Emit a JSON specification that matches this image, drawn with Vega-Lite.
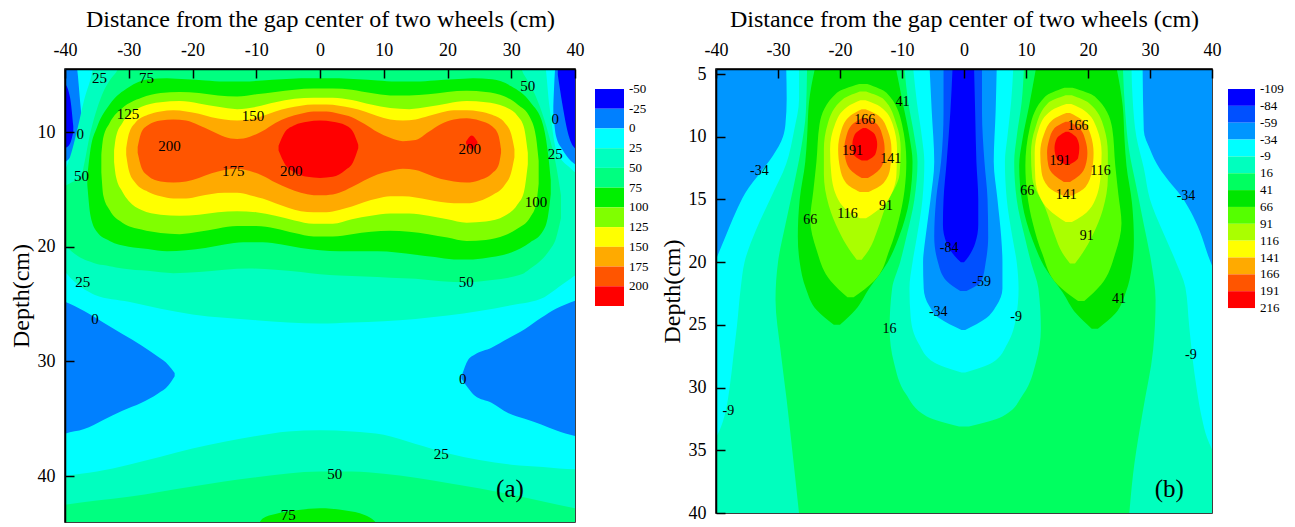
{
"$schema":"https://vega.github.io/schema/vega-lite/v6.json",
"padding":{"left":8,"top":6,"right":5,"bottom":5},
"background":"white",
"config":{
 "font":"Liberation Serif",
 "view":{"stroke":null},
 "axis":{"labelFont":"Liberation Serif","titleFont":"Liberation Serif","labelFontSize":18,"titleFontSize":24,"titleFontWeight":"normal","labelColor":"#000","titleColor":"#000","domainColor":"#000","domainWidth":1.5,"tickColor":"#000","tickWidth":1.5,"tickSize":-9,"labelPadding":19,"grid":false,"labelFlush":false,"labelOverlap":false},
 "axisX":{"titlePadding":10},
 "axisY":{"titlePadding":4}
},
"datasets":{
"a":[
{"v":10,"g":"A","x":-41,"d":4,"d2":45},{"v":10,"g":"A","x":41,"d":4,"d2":45},
{"v":-10,"g":"TL","x":-41,"d":4,"d2":12.9},{"v":-10,"g":"TL","x":-40,"d":4,"d2":12.6},{"v":-10,"g":"TL","x":-39,"d":4,"d2":12.1},{"v":-10,"g":"TL","x":-38.3,"d":4,"d2":11.3},{"v":-10,"g":"TL","x":-37.6,"d":7.5,"d2":10.6},{"v":-10,"g":"TL","x":-37.3,"d":9.3,"d2":9.9},
{"v":-10,"g":"TR","x":36.6,"d":7.8,"d2":8.3},{"v":-10,"g":"TR","x":37,"d":4,"d2":10.3},{"v":-10,"g":"TR","x":38,"d":4,"d2":11.5},{"v":-10,"g":"TR","x":39,"d":4,"d2":12.3},{"v":-10,"g":"TR","x":40,"d":4,"d2":12.8},{"v":-10,"g":"TR","x":41,"d":4,"d2":13.0},
{"v":-10,"g":"ML","x":-41,"d":24.6,"d2":36.5},{"v":-10,"g":"ML","x":-40,"d":24.8,"d2":36.3},{"v":-10,"g":"ML","x":-37,"d":25.6,"d2":35.9},{"v":-10,"g":"ML","x":-34,"d":26.6,"d2":35.1},{"v":-10,"g":"ML","x":-31,"d":27.6,"d2":34.3},{"v":-10,"g":"ML","x":-28,"d":28.6,"d2":33.6},{"v":-10,"g":"ML","x":-25.4,"d":29.6,"d2":32.8},{"v":-10,"g":"ML","x":-23.8,"d":30.3,"d2":32.1},{"v":-10,"g":"ML","x":-22.8,"d":31.0,"d2":31.3},
{"v":-10,"g":"MR","x":22.2,"d":31.3,"d2":31.5},{"v":-10,"g":"MR","x":23.2,"d":29.9,"d2":32.3},{"v":-10,"g":"MR","x":24.3,"d":29.4,"d2":33.0},{"v":-10,"g":"MR","x":26.9,"d":28.8,"d2":33.6},{"v":-10,"g":"MR","x":29.5,"d":28.0,"d2":34.5},{"v":-10,"g":"MR","x":32.1,"d":27.2,"d2":35.0},{"v":-10,"g":"MR","x":34.7,"d":26.2,"d2":35.5},{"v":-10,"g":"MR","x":37,"d":25.4,"d2":36.0},{"v":-10,"g":"MR","x":40,"d":24.7,"d2":36.5},{"v":-10,"g":"MR","x":41,"d":24.5,"d2":36.6},
{"v":-30,"g":"DL","x":-41,"d":5.6,"d2":11.5},{"v":-30,"g":"DL","x":-40,"d":5.8,"d2":11.4},{"v":-30,"g":"DL","x":-39.2,"d":7.0,"d2":11.0},{"v":-30,"g":"DL","x":-38.7,"d":9.5,"d2":10.0},
{"v":-30,"g":"DR","x":37.3,"d":4,"d2":5.0},{"v":-30,"g":"DR","x":38,"d":4,"d2":7.5},{"v":-30,"g":"DR","x":39,"d":4,"d2":10.3},{"v":-30,"g":"DR","x":40,"d":4,"d2":11.4},{"v":-30,"g":"DR","x":41,"d":4,"d2":11.6},
{"v":30,"g":"T","x":-41,"d":13.9,"d2":21.9},{"v":30,"g":"T","x":-40,"d":13.3,"d2":22.2},{"v":30,"g":"T","x":-39,"d":11.8,"d2":22.8},{"v":30,"g":"T","x":-38,"d":9.6,"d2":23.3},{"v":30,"g":"T","x":-37,"d":7.2,"d2":23.7},{"v":30,"g":"T","x":-36,"d":5.4,"d2":24.0},{"v":30,"g":"T","x":-35.3,"d":4,"d2":24.2},{"v":30,"g":"T","x":-30,"d":4,"d2":24.8},{"v":30,"g":"T","x":-25,"d":4,"d2":25.4},{"v":30,"g":"T","x":-20,"d":4,"d2":25.9},{"v":30,"g":"T","x":-15,"d":4,"d2":26.2},{"v":30,"g":"T","x":-10,"d":4,"d2":26.4},{"v":30,"g":"T","x":-5,"d":4,"d2":26.6},{"v":30,"g":"T","x":0,"d":4,"d2":26.7},{"v":30,"g":"T","x":5,"d":4,"d2":26.6},{"v":30,"g":"T","x":10,"d":4,"d2":26.5},{"v":30,"g":"T","x":15,"d":4,"d2":26.3},{"v":30,"g":"T","x":20,"d":4,"d2":26.0},{"v":30,"g":"T","x":25,"d":4,"d2":25.6},{"v":30,"g":"T","x":30,"d":4,"d2":25.1},{"v":30,"g":"T","x":35.2,"d":4,"d2":24.4},{"v":30,"g":"T","x":36,"d":7.8,"d2":24.1},{"v":30,"g":"T","x":37,"d":11.5,"d2":23.7},{"v":30,"g":"T","x":38,"d":12.5,"d2":23.3},{"v":30,"g":"T","x":39,"d":13.0,"d2":22.9},{"v":30,"g":"T","x":40,"d":13.5,"d2":22.5},{"v":30,"g":"T","x":41,"d":13.7,"d2":22.3},
{"v":30,"g":"B","x":-41,"d":40.1,"d2":45},{"v":30,"g":"B","x":-40,"d":40.0,"d2":45},{"v":30,"g":"B","x":-35,"d":39.6,"d2":45},{"v":30,"g":"B","x":-30,"d":39.0,"d2":45},{"v":30,"g":"B","x":-25,"d":38.3,"d2":45},{"v":30,"g":"B","x":-20,"d":37.6,"d2":45},{"v":30,"g":"B","x":-15,"d":37.0,"d2":45},{"v":30,"g":"B","x":-10,"d":36.5,"d2":45},{"v":30,"g":"B","x":-5,"d":36.1,"d2":45},{"v":30,"g":"B","x":0,"d":36.0,"d2":45},{"v":30,"g":"B","x":5,"d":36.1,"d2":45},{"v":30,"g":"B","x":10,"d":36.4,"d2":45},{"v":30,"g":"B","x":15,"d":37.2,"d2":45},{"v":30,"g":"B","x":20,"d":38.0,"d2":45},{"v":30,"g":"B","x":25,"d":38.6,"d2":45},{"v":30,"g":"B","x":30,"d":39.0,"d2":45},{"v":30,"g":"B","x":35,"d":39.2,"d2":45},{"v":30,"g":"B","x":40,"d":39.4,"d2":45},{"v":30,"g":"B","x":41,"d":39.4,"d2":45},
{"v":60,"g":"T","x":-41,"d":14.9,"d2":19.6},{"v":60,"g":"T","x":-40,"d":14.7,"d2":19.9},{"v":60,"g":"T","x":-39,"d":14.4,"d2":20.4},{"v":60,"g":"T","x":-38,"d":14.1,"d2":20.8},{"v":60,"g":"T","x":-37.4,"d":13.8,"d2":21.0},{"v":60,"g":"T","x":-37,"d":12.8,"d2":21.1},{"v":60,"g":"T","x":-36,"d":10.0,"d2":21.3},{"v":60,"g":"T","x":-35,"d":8.0,"d2":21.5},{"v":60,"g":"T","x":-34,"d":6.5,"d2":21.6},{"v":60,"g":"T","x":-33,"d":5.5,"d2":21.7},{"v":60,"g":"T","x":-32,"d":4.8,"d2":21.8},{"v":60,"g":"T","x":-31,"d":4,"d2":21.9},{"v":60,"g":"T","x":-27,"d":4,"d2":22.1},{"v":60,"g":"T","x":-23,"d":4,"d2":22.3},{"v":60,"g":"T","x":-19,"d":4,"d2":22.2},{"v":60,"g":"T","x":-15,"d":4,"d2":22.0},{"v":60,"g":"T","x":-11,"d":4,"d2":21.9},{"v":60,"g":"T","x":-7,"d":4,"d2":22.0},{"v":60,"g":"T","x":-3,"d":4,"d2":22.2},{"v":60,"g":"T","x":0,"d":4,"d2":22.4},{"v":60,"g":"T","x":3,"d":4,"d2":22.5},{"v":60,"g":"T","x":7,"d":4,"d2":22.6},{"v":60,"g":"T","x":11,"d":4,"d2":22.7},{"v":60,"g":"T","x":15,"d":4,"d2":22.8},{"v":60,"g":"T","x":19,"d":4,"d2":23.0},{"v":60,"g":"T","x":23,"d":4,"d2":23.1},{"v":60,"g":"T","x":27,"d":4,"d2":22.9},{"v":60,"g":"T","x":31,"d":4,"d2":22.5},{"v":60,"g":"T","x":32,"d":5.0,"d2":22.3},{"v":60,"g":"T","x":33,"d":5.9,"d2":21.9},{"v":60,"g":"T","x":34,"d":7.1,"d2":21.5},{"v":60,"g":"T","x":35,"d":8.6,"d2":21.0},{"v":60,"g":"T","x":36,"d":10.5,"d2":20.3},{"v":60,"g":"T","x":37,"d":12.8,"d2":19.3},{"v":60,"g":"T","x":37.8,"d":15.5,"d2":17.5},
{"v":60,"g":"B","x":-41,"d":42.6,"d2":45},{"v":60,"g":"B","x":-40,"d":42.5,"d2":45},{"v":60,"g":"B","x":-30,"d":41.8,"d2":45},{"v":60,"g":"B","x":-20,"d":40.9,"d2":45},{"v":60,"g":"B","x":-10,"d":40.1,"d2":45},{"v":60,"g":"B","x":0,"d":39.6,"d2":45},{"v":60,"g":"B","x":5,"d":39.6,"d2":45},{"v":60,"g":"B","x":10,"d":39.8,"d2":45},{"v":60,"g":"B","x":20,"d":40.6,"d2":45},{"v":60,"g":"B","x":30,"d":41.6,"d2":45},{"v":60,"g":"B","x":40,"d":42.8,"d2":45},{"v":60,"g":"B","x":41,"d":42.9,"d2":45},
{"v":85,"g":"T","x":-36.5,"d":13.8,"d2":14.6},{"v":85,"g":"T","x":-36,"d":11.5,"d2":17.3},{"v":85,"g":"T","x":-35,"d":9.6,"d2":18.7},{"v":85,"g":"T","x":-33,"d":7.6,"d2":19.5},{"v":85,"g":"T","x":-30,"d":6.1,"d2":20.0},{"v":85,"g":"T","x":-27,"d":5.4,"d2":20.2},{"v":85,"g":"T","x":-24,"d":5.3,"d2":20.4},{"v":85,"g":"T","x":-21,"d":5.4,"d2":20.3},{"v":85,"g":"T","x":-18,"d":5.5,"d2":20.1},{"v":85,"g":"T","x":-15,"d":5.6,"d2":19.8},{"v":85,"g":"T","x":-12,"d":5.6,"d2":19.6},{"v":85,"g":"T","x":-9,"d":5.5,"d2":19.6},{"v":85,"g":"T","x":-6,"d":5.4,"d2":19.8},{"v":85,"g":"T","x":-3,"d":5.3,"d2":20.1},{"v":85,"g":"T","x":0,"d":5.3,"d2":20.3},{"v":85,"g":"T","x":3,"d":5.3,"d2":20.4},{"v":85,"g":"T","x":6,"d":5.4,"d2":20.4},{"v":85,"g":"T","x":9,"d":5.5,"d2":20.4},{"v":85,"g":"T","x":12,"d":5.6,"d2":20.5},{"v":85,"g":"T","x":15,"d":5.6,"d2":20.7},{"v":85,"g":"T","x":18,"d":5.5,"d2":20.9},{"v":85,"g":"T","x":21,"d":5.4,"d2":21.1},{"v":85,"g":"T","x":24,"d":5.3,"d2":21.1},{"v":85,"g":"T","x":27,"d":5.4,"d2":20.9},{"v":85,"g":"T","x":30,"d":6.0,"d2":20.5},{"v":85,"g":"T","x":33,"d":7.4,"d2":19.6},{"v":85,"g":"T","x":35,"d":9.4,"d2":18.6},{"v":85,"g":"T","x":35.8,"d":12.0,"d2":17.2},{"v":85,"g":"T","x":36.2,"d":14.2,"d2":15.4},
{"v":85,"g":"B","x":-10,"d":44.6,"d2":45},{"v":85,"g":"B","x":-9,"d":43.7,"d2":45},{"v":85,"g":"B","x":-7,"d":43.3,"d2":45},{"v":85,"g":"B","x":-4,"d":43.0,"d2":45},{"v":85,"g":"B","x":0,"d":42.8,"d2":45},{"v":85,"g":"B","x":4,"d":43.0,"d2":45},{"v":85,"g":"B","x":7,"d":43.4,"d2":45},{"v":85,"g":"B","x":8.5,"d":43.9,"d2":45},{"v":85,"g":"B","x":9.5,"d":44.6,"d2":45},
{"v":110,"g":"T","x":-34.3,"d":12.0,"d2":13.5},{"v":110,"g":"T","x":-34,"d":10.5,"d2":15.5},{"v":110,"g":"T","x":-33,"d":9.2,"d2":16.8},{"v":110,"g":"T","x":-31,"d":7.9,"d2":17.9},{"v":110,"g":"T","x":-28,"d":7.0,"d2":18.5},{"v":110,"g":"T","x":-25,"d":6.6,"d2":18.8},{"v":110,"g":"T","x":-22,"d":6.5,"d2":18.9},{"v":110,"g":"T","x":-19,"d":6.6,"d2":18.7},{"v":110,"g":"T","x":-16,"d":6.8,"d2":18.4},{"v":110,"g":"T","x":-13,"d":6.9,"d2":18.2},{"v":110,"g":"T","x":-10,"d":6.7,"d2":18.2},{"v":110,"g":"T","x":-7,"d":6.5,"d2":18.4},{"v":110,"g":"T","x":-4,"d":6.3,"d2":18.8},{"v":110,"g":"T","x":-1,"d":6.2,"d2":19.1},{"v":110,"g":"T","x":2,"d":6.2,"d2":19.1},{"v":110,"g":"T","x":5,"d":6.3,"d2":18.9},{"v":110,"g":"T","x":8,"d":6.6,"d2":18.7},{"v":110,"g":"T","x":11,"d":6.8,"d2":18.6},{"v":110,"g":"T","x":14,"d":6.8,"d2":18.7},{"v":110,"g":"T","x":17,"d":6.7,"d2":18.9},{"v":110,"g":"T","x":20,"d":6.5,"d2":19.2},{"v":110,"g":"T","x":23,"d":6.4,"d2":19.5},{"v":110,"g":"T","x":26,"d":6.5,"d2":19.4},{"v":110,"g":"T","x":29,"d":6.9,"d2":19.0},{"v":110,"g":"T","x":31,"d":7.6,"d2":18.4},{"v":110,"g":"T","x":33,"d":8.8,"d2":17.4},{"v":110,"g":"T","x":33.9,"d":10.5,"d2":16.3},{"v":110,"g":"T","x":34.3,"d":12.5,"d2":14.5},
{"v":135,"g":"T","x":-32.3,"d":11.6,"d2":12.6},{"v":135,"g":"T","x":-32,"d":10.4,"d2":13.9},{"v":135,"g":"T","x":-31,"d":9.2,"d2":15.2},{"v":135,"g":"T","x":-30,"d":8.5,"d2":16.0},{"v":135,"g":"T","x":-28,"d":7.8,"d2":16.8},{"v":135,"g":"T","x":-25,"d":7.4,"d2":17.2},{"v":135,"g":"T","x":-22,"d":7.3,"d2":17.3},{"v":135,"g":"T","x":-19,"d":7.5,"d2":17.2},{"v":135,"g":"T","x":-16,"d":7.8,"d2":17.0},{"v":135,"g":"T","x":-13,"d":8.0,"d2":16.9},{"v":135,"g":"T","x":-10,"d":7.8,"d2":17.0},{"v":135,"g":"T","x":-7,"d":7.4,"d2":17.3},{"v":135,"g":"T","x":-4,"d":7.1,"d2":17.7},{"v":135,"g":"T","x":-1,"d":7.0,"d2":18.0},{"v":135,"g":"T","x":2,"d":7.0,"d2":18.0},{"v":135,"g":"T","x":5,"d":7.2,"d2":17.6},{"v":135,"g":"T","x":8,"d":7.6,"d2":17.3},{"v":135,"g":"T","x":11,"d":7.9,"d2":17.1},{"v":135,"g":"T","x":14,"d":8.0,"d2":17.1},{"v":135,"g":"T","x":17,"d":7.8,"d2":17.3},{"v":135,"g":"T","x":20,"d":7.5,"d2":17.6},{"v":135,"g":"T","x":23,"d":7.3,"d2":17.9},{"v":135,"g":"T","x":26,"d":7.4,"d2":17.8},{"v":135,"g":"T","x":29,"d":7.8,"d2":17.3},{"v":135,"g":"T","x":31,"d":8.6,"d2":16.3},{"v":135,"g":"T","x":32,"d":9.6,"d2":15.2},{"v":135,"g":"T","x":32.6,"d":11.8,"d2":12.8},
{"v":160,"g":"T","x":-30.4,"d":11.4,"d2":12.0},{"v":160,"g":"T","x":-30,"d":10.2,"d2":13.3},{"v":160,"g":"T","x":-29,"d":9.2,"d2":14.4},{"v":160,"g":"T","x":-27,"d":8.5,"d2":15.2},{"v":160,"g":"T","x":-25,"d":8.2,"d2":15.6},{"v":160,"g":"T","x":-23,"d":8.1,"d2":15.8},{"v":160,"g":"T","x":-21,"d":8.2,"d2":15.8},{"v":160,"g":"T","x":-19,"d":8.4,"d2":15.6},{"v":160,"g":"T","x":-17,"d":8.7,"d2":15.4},{"v":160,"g":"T","x":-15,"d":8.9,"d2":15.3},{"v":160,"g":"T","x":-13,"d":9.0,"d2":15.3},{"v":160,"g":"T","x":-11,"d":8.9,"d2":15.5},{"v":160,"g":"T","x":-9,"d":8.6,"d2":15.8},{"v":160,"g":"T","x":-7,"d":8.2,"d2":16.2},{"v":160,"g":"T","x":-5,"d":7.9,"d2":16.6},{"v":160,"g":"T","x":-3,"d":7.7,"d2":16.9},{"v":160,"g":"T","x":-1,"d":7.6,"d2":17.0},{"v":160,"g":"T","x":1,"d":7.6,"d2":17.0},{"v":160,"g":"T","x":3,"d":7.7,"d2":16.8},{"v":160,"g":"T","x":5,"d":7.9,"d2":16.5},{"v":160,"g":"T","x":7,"d":8.2,"d2":16.1},{"v":160,"g":"T","x":9,"d":8.6,"d2":15.8},{"v":160,"g":"T","x":11,"d":8.9,"d2":15.6},{"v":160,"g":"T","x":13,"d":9.0,"d2":15.6},{"v":160,"g":"T","x":15,"d":8.9,"d2":15.7},{"v":160,"g":"T","x":17,"d":8.6,"d2":15.9},{"v":160,"g":"T","x":19,"d":8.3,"d2":16.1},{"v":160,"g":"T","x":21,"d":8.1,"d2":16.2},{"v":160,"g":"T","x":23,"d":8.1,"d2":16.2},{"v":160,"g":"T","x":25,"d":8.2,"d2":16.0},{"v":160,"g":"T","x":27,"d":8.5,"d2":15.5},{"v":160,"g":"T","x":29,"d":9.2,"d2":14.6},{"v":160,"g":"T","x":30,"d":10.2,"d2":13.5},{"v":160,"g":"T","x":30.5,"d":11.5,"d2":12.2},
{"v":185,"g":"T","x":-28.6,"d":11.3,"d2":11.8},{"v":185,"g":"T","x":-28,"d":10.0,"d2":13.1},{"v":185,"g":"T","x":-27,"d":9.4,"d2":13.8},{"v":185,"g":"T","x":-25,"d":9.0,"d2":14.3},{"v":185,"g":"T","x":-23,"d":8.9,"d2":14.4},{"v":185,"g":"T","x":-21,"d":9.0,"d2":14.3},{"v":185,"g":"T","x":-19,"d":9.4,"d2":14.0},{"v":185,"g":"T","x":-17,"d":9.9,"d2":13.6},{"v":185,"g":"T","x":-15,"d":10.4,"d2":13.3},{"v":185,"g":"T","x":-13,"d":10.6,"d2":13.2},{"v":185,"g":"T","x":-11,"d":10.4,"d2":13.4},{"v":185,"g":"T","x":-9,"d":9.9,"d2":13.8},{"v":185,"g":"T","x":-7,"d":9.2,"d2":14.4},{"v":185,"g":"T","x":-5,"d":8.7,"d2":14.9},{"v":185,"g":"T","x":-3,"d":8.4,"d2":15.3},{"v":185,"g":"T","x":-1,"d":8.2,"d2":15.5},{"v":185,"g":"T","x":1,"d":8.2,"d2":15.5},{"v":185,"g":"T","x":3,"d":8.4,"d2":15.3},{"v":185,"g":"T","x":5,"d":8.7,"d2":14.8},{"v":185,"g":"T","x":7,"d":9.3,"d2":14.2},{"v":185,"g":"T","x":9,"d":10.0,"d2":13.7},{"v":185,"g":"T","x":11,"d":10.5,"d2":13.4},{"v":185,"g":"T","x":13,"d":10.8,"d2":13.2},{"v":185,"g":"T","x":15,"d":10.7,"d2":13.3},{"v":185,"g":"T","x":17,"d":10.0,"d2":13.7},{"v":185,"g":"T","x":19,"d":9.3,"d2":14.1},{"v":185,"g":"T","x":21,"d":8.9,"d2":14.3},{"v":185,"g":"T","x":23,"d":8.8,"d2":14.4},{"v":185,"g":"T","x":25,"d":9.0,"d2":14.2},{"v":185,"g":"T","x":27,"d":9.5,"d2":13.6},{"v":185,"g":"T","x":28,"d":10.3,"d2":12.9},{"v":185,"g":"T","x":28.4,"d":11.5,"d2":11.8},
{"v":210,"g":"C","x":-6.5,"d":11.2,"d2":11.6},{"v":210,"g":"C","x":-5.5,"d":10.0,"d2":12.8},{"v":210,"g":"C","x":-4,"d":9.4,"d2":13.5},{"v":210,"g":"C","x":-2,"d":9.1,"d2":13.9},{"v":210,"g":"C","x":0,"d":9.0,"d2":14.0},{"v":210,"g":"C","x":2,"d":9.1,"d2":13.9},{"v":210,"g":"C","x":4,"d":9.4,"d2":13.3},{"v":210,"g":"C","x":5.2,"d":10.0,"d2":12.6},{"v":210,"g":"C","x":6,"d":11.1,"d2":11.4},
{"v":210,"g":"R","x":22.9,"d":10.85,"d2":11.0},{"v":210,"g":"R","x":23.8,"d":10.3,"d2":11.5},{"v":210,"g":"R","x":24.7,"d":10.85,"d2":11.0}
],
"ta":[
{"x":-34.6,"d":5.3,"s":"25"},{"x":-27.2,"d":5.3,"s":"75"},{"x":-30.1,"d":8.4,"s":"125"},{"x":-10.5,"d":8.6,"s":"150"},{"x":-37.6,"d":10.2,"s":"0"},{"x":-23.6,"d":11.2,"s":"200"},{"x":-13.6,"d":13.4,"s":"175"},{"x":-4.5,"d":13.4,"s":"200"},{"x":-37.4,"d":13.8,"s":"50"},{"x":-37.2,"d":23.1,"s":"25"},{"x":32.6,"d":6.0,"s":"50"},{"x":36.9,"d":8.9,"s":"0"},{"x":23.5,"d":11.5,"s":"200"},{"x":36.9,"d":11.9,"s":"25"},{"x":33.9,"d":16.1,"s":"100"},{"x":22.95,"d":23.1,"s":"50"},{"x":-35.3,"d":26.3,"s":"0"},{"x":22.4,"d":31.5,"s":"0"},{"x":19.0,"d":38.1,"s":"25"},{"x":2.3,"d":39.8,"s":"50"},{"x":-5.0,"d":43.4,"s":"75"}
],
"pa":[{"x":29.8,"d":41.1,"s":"(a)"}],
"b":[
{"v":30,"g":"B","d":4,"x":-41,"x2":41},{"v":30,"g":"B","d":41,"x":-41,"x2":41},
{"v":5,"g":"L","d":4,"x":-41,"x2":-25.3},{"v":5,"g":"L","d":8,"x":-41,"x2":-25.5},{"v":5,"g":"L","d":11,"x":-41,"x2":-26.3},{"v":5,"g":"L","d":14,"x":-41,"x2":-27.5},{"v":5,"g":"L","d":17,"x":-41,"x2":-28.8},{"v":5,"g":"L","d":20,"x":-41,"x2":-30.0},{"v":5,"g":"L","d":23,"x":-41,"x2":-30.4},{"v":5,"g":"L","d":27,"x":-41,"x2":-29.6},{"v":5,"g":"L","d":31,"x":-41,"x2":-28.6},{"v":5,"g":"L","d":35,"x":-41,"x2":-27.7},{"v":5,"g":"L","d":41,"x":-41,"x2":-26.4},
{"v":5,"g":"C","d":4,"x":-9.7,"x2":9.7},{"v":5,"g":"C","d":7.25,"x":-9.0,"x2":9.3},{"v":5,"g":"C","d":10,"x":-8.0,"x2":8.5},{"v":5,"g":"C","d":12,"x":-7.5,"x2":8.1},{"v":5,"g":"C","d":15,"x":-8.0,"x2":8.5},{"v":5,"g":"C","d":18,"x":-9.3,"x2":9.8},{"v":5,"g":"C","d":20,"x":-10.3,"x2":10.8},{"v":5,"g":"C","d":22.1,"x":-11.6,"x2":12.0},{"v":5,"g":"C","d":25.3,"x":-12.0,"x2":12.4},{"v":5,"g":"C","d":28,"x":-11.3,"x2":11.6},{"v":5,"g":"C","d":30.5,"x":-9.4,"x2":9.6},{"v":5,"g":"C","d":32.3,"x":-6.0,"x2":6.2},{"v":5,"g":"C","d":33.1,"x":-0.8,"x2":0.8},
{"v":5,"g":"R","d":4,"x":25.6,"x2":41},{"v":5,"g":"R","d":8,"x":26.0,"x2":41},{"v":5,"g":"R","d":11,"x":26.6,"x2":41},{"v":5,"g":"R","d":14,"x":27.8,"x2":41},{"v":5,"g":"R","d":17,"x":29.0,"x2":41},{"v":5,"g":"R","d":20,"x":30.2,"x2":41},{"v":5,"g":"R","d":23,"x":30.9,"x2":41},{"v":5,"g":"R","d":27,"x":30.5,"x2":41},{"v":5,"g":"R","d":32,"x":28.8,"x2":41},{"v":5,"g":"R","d":36,"x":27.5,"x2":41},{"v":5,"g":"R","d":41,"x":26.5,"x2":41},
{"v":-20,"g":"L","d":4,"x":-41,"x2":-26.6},{"v":-20,"g":"L","d":7,"x":-41,"x2":-26.6},{"v":-20,"g":"L","d":9.5,"x":-41,"x2":-27.4},{"v":-20,"g":"L","d":12.2,"x":-41,"x2":-28.7},{"v":-20,"g":"L","d":14.8,"x":-41,"x2":-31.1},{"v":-20,"g":"L","d":17.5,"x":-41,"x2":-33.6},{"v":-20,"g":"L","d":20,"x":-41,"x2":-35.4},{"v":-20,"g":"L","d":22,"x":-41,"x2":-36.0},{"v":-20,"g":"L","d":25,"x":-41,"x2":-36.6},{"v":-20,"g":"L","d":27.5,"x":-41,"x2":-37.2},{"v":-20,"g":"L","d":30,"x":-41,"x2":-37.8},{"v":-20,"g":"L","d":32,"x":-41,"x2":-38.5},{"v":-20,"g":"L","d":33.5,"x":-41,"x2":-39.5},{"v":-20,"g":"L","d":34.5,"x":-41,"x2":-40.6},
{"v":-20,"g":"C","d":4,"x":-8.3,"x2":8.0},{"v":-20,"g":"C","d":7.25,"x":-7.6,"x2":7.6},{"v":-20,"g":"C","d":10,"x":-6.8,"x2":7.0},{"v":-20,"g":"C","d":12,"x":-6.4,"x2":6.6},{"v":-20,"g":"C","d":15,"x":-6.7,"x2":6.9},{"v":-20,"g":"C","d":18,"x":-7.6,"x2":7.8},{"v":-20,"g":"C","d":20,"x":-8.3,"x2":8.5},{"v":-20,"g":"C","d":22.1,"x":-8.8,"x2":8.8},{"v":-20,"g":"C","d":24.4,"x":-8.6,"x2":8.4},{"v":-20,"g":"C","d":26.5,"x":-7.3,"x2":7.0},{"v":-20,"g":"C","d":28,"x":-4.8,"x2":4.6},{"v":-20,"g":"C","d":28.8,"x":-0.4,"x2":0.2},
{"v":-20,"g":"R","d":4,"x":27.0,"x2":41},{"v":-20,"g":"R","d":7,"x":27.2,"x2":41},{"v":-20,"g":"R","d":10,"x":27.8,"x2":41},{"v":-20,"g":"R","d":12.5,"x":29.0,"x2":41},{"v":-20,"g":"R","d":15,"x":30.0,"x2":41},{"v":-20,"g":"R","d":17.5,"x":32.0,"x2":41},{"v":-20,"g":"R","d":20,"x":34.2,"x2":41},{"v":-20,"g":"R","d":22,"x":35.7,"x2":41},{"v":-20,"g":"R","d":25,"x":36.3,"x2":41},{"v":-20,"g":"R","d":27.4,"x":36.8,"x2":41},{"v":-20,"g":"R","d":30,"x":37.5,"x2":41},{"v":-20,"g":"R","d":32.5,"x":38.4,"x2":41},{"v":-20,"g":"R","d":34,"x":39.2,"x2":41},{"v":-20,"g":"R","d":35.5,"x":40.6,"x2":41},
{"v":-45,"g":"L","d":4,"x":-41,"x2":-28.7},{"v":-45,"g":"L","d":7,"x":-41,"x2":-28.6},{"v":-45,"g":"L","d":9,"x":-41,"x2":-28.8},{"v":-45,"g":"L","d":10,"x":-41,"x2":-29.2},{"v":-45,"g":"L","d":11.5,"x":-41,"x2":-30.8},{"v":-45,"g":"L","d":12.7,"x":-41,"x2":-32.6},{"v":-45,"g":"L","d":14.5,"x":-41,"x2":-35.3},{"v":-45,"g":"L","d":16,"x":-41,"x2":-36.8},{"v":-45,"g":"L","d":18,"x":-41,"x2":-38.5},{"v":-45,"g":"L","d":20.5,"x":-41,"x2":-40.6},
{"v":-45,"g":"C","d":4,"x":-5.6,"x2":5.3},{"v":-45,"g":"C","d":8,"x":-5.2,"x2":5.1},{"v":-45,"g":"C","d":12,"x":-4.8,"x2":4.8},{"v":-45,"g":"C","d":15,"x":-5.4,"x2":5.4},{"v":-45,"g":"C","d":18,"x":-6.2,"x2":6.0},{"v":-45,"g":"C","d":20,"x":-6.6,"x2":6.2},{"v":-45,"g":"C","d":22.1,"x":-6.5,"x2":6.2},{"v":-45,"g":"C","d":23.5,"x":-5.6,"x2":5.2},{"v":-45,"g":"C","d":24.5,"x":-3.9,"x2":3.5},{"v":-45,"g":"C","d":25.4,"x":-0.4,"x2":0.2},
{"v":-45,"g":"R","d":4,"x":28.8,"x2":41},{"v":-45,"g":"R","d":9.5,"x":29.0,"x2":41},{"v":-45,"g":"R","d":11,"x":30.0,"x2":41},{"v":-45,"g":"R","d":12.5,"x":31.5,"x2":41},{"v":-45,"g":"R","d":13.5,"x":33.0,"x2":41},{"v":-45,"g":"R","d":14.7,"x":35.0,"x2":41},{"v":-45,"g":"R","d":16,"x":36.6,"x2":41},{"v":-45,"g":"R","d":17.5,"x":38.0,"x2":41},{"v":-45,"g":"R","d":19.5,"x":39.4,"x2":41},{"v":-45,"g":"R","d":21,"x":40.6,"x2":41},
{"v":-70,"g":"C","d":4,"x":-3.3,"x2":2.9},{"v":-70,"g":"C","d":8,"x":-3.3,"x2":2.9},{"v":-70,"g":"C","d":12,"x":-3.7,"x2":3.3},{"v":-70,"g":"C","d":15,"x":-4.5,"x2":3.8},{"v":-70,"g":"C","d":18,"x":-4.8,"x2":3.9},{"v":-70,"g":"C","d":20,"x":-4.2,"x2":3.5},{"v":-70,"g":"C","d":21.5,"x":-2.8,"x2":2.8},{"v":-70,"g":"C","d":22.3,"x":-0.6,"x2":0.4},
{"v":-95,"g":"C","d":4,"x":-1.8,"x2":1.6},{"v":-95,"g":"C","d":8,"x":-2.2,"x2":1.8},{"v":-95,"g":"C","d":12,"x":-2.8,"x2":2.0},{"v":-95,"g":"C","d":15,"x":-3.3,"x2":2.3},{"v":-95,"g":"C","d":17,"x":-3.4,"x2":2.3},{"v":-95,"g":"C","d":18.5,"x":-2.8,"x2":1.8},{"v":-95,"g":"C","d":19.5,"x":-1.5,"x2":0.8},{"v":-95,"g":"C","d":20,"x":-0.5,"x2":0.0},
{"v":50,"g":"L","d":4,"x":-23.8,"x2":-11.2},{"v":50,"g":"L","d":7.25,"x":-25.0,"x2":-9.9},{"v":50,"g":"L","d":10,"x":-25.3,"x2":-8.8},{"v":50,"g":"L","d":12,"x":-25.6,"x2":-8.3},{"v":50,"g":"L","d":15,"x":-26.5,"x2":-8.8},{"v":50,"g":"L","d":18,"x":-26.8,"x2":-10.5},{"v":50,"g":"L","d":20,"x":-26.5,"x2":-12.3},{"v":50,"g":"L","d":22.1,"x":-25.5,"x2":-15.3},{"v":50,"g":"L","d":23.8,"x":-23.8,"x2":-17.5},{"v":50,"g":"L","d":25.0,"x":-21.0,"x2":-20.0},
{"v":50,"g":"R","d":4,"x":11.8,"x2":24.4},{"v":50,"g":"R","d":7.55,"x":10.5,"x2":25.6},{"v":50,"g":"R","d":10.3,"x":9.4,"x2":25.9},{"v":50,"g":"R","d":12.3,"x":8.9,"x2":26.2},{"v":50,"g":"R","d":15.3,"x":9.4,"x2":27.1},{"v":50,"g":"R","d":18.3,"x":11.1,"x2":27.4},{"v":50,"g":"R","d":20.3,"x":12.9,"x2":27.1},{"v":50,"g":"R","d":22.4,"x":15.9,"x2":26.1},{"v":50,"g":"R","d":24.1,"x":18.1,"x2":24.4},{"v":50,"g":"R","d":25.3,"x":20.6,"x2":21.6},
{"v":75,"g":"L","d":5.8,"x":-16.9,"x2":-15.6},{"v":75,"g":"L","d":6.5,"x":-20.5,"x2":-12.5},{"v":75,"g":"L","d":9,"x":-23.3,"x2":-10.0},{"v":75,"g":"L","d":12,"x":-23.8,"x2":-9.3},{"v":75,"g":"L","d":14.3,"x":-24.3,"x2":-9.6},{"v":75,"g":"L","d":16.6,"x":-24.8,"x2":-10.5},{"v":75,"g":"L","d":19,"x":-23.8,"x2":-12.0},{"v":75,"g":"L","d":21.5,"x":-21.5,"x2":-14.5},{"v":75,"g":"L","d":22.8,"x":-18.8,"x2":-17.8},
{"v":75,"g":"R","d":6.1,"x":16.2,"x2":17.5},{"v":75,"g":"R","d":6.8,"x":13.1,"x2":21.1},{"v":75,"g":"R","d":9.3,"x":10.6,"x2":23.9},{"v":75,"g":"R","d":12.3,"x":9.9,"x2":24.4},{"v":75,"g":"R","d":14.6,"x":10.2,"x2":24.9},{"v":75,"g":"R","d":16.9,"x":11.1,"x2":25.4},{"v":75,"g":"R","d":19.3,"x":12.6,"x2":24.4},{"v":75,"g":"R","d":21.8,"x":15.1,"x2":22.1},{"v":75,"g":"R","d":23.1,"x":18.4,"x2":19.4},
{"v":100,"g":"L","d":6.4,"x":-16.8,"x2":-15.8},{"v":100,"g":"L","d":7,"x":-19.5,"x2":-13.0},{"v":100,"g":"L","d":9,"x":-22.0,"x2":-10.9},{"v":100,"g":"L","d":11,"x":-22.6,"x2":-10.2},{"v":100,"g":"L","d":13,"x":-22.6,"x2":-10.4},{"v":100,"g":"L","d":15.5,"x":-21.8,"x2":-12.6},{"v":100,"g":"L","d":17.5,"x":-20.2,"x2":-14.0},{"v":100,"g":"L","d":19,"x":-18.5,"x2":-15.3},{"v":100,"g":"L","d":19.8,"x":-17.3,"x2":-16.5},
{"v":100,"g":"R","d":6.7,"x":16.4,"x2":17.4},{"v":100,"g":"R","d":7.3,"x":13.6,"x2":20.1},{"v":100,"g":"R","d":9.3,"x":11.5,"x2":22.6},{"v":100,"g":"R","d":11.3,"x":10.8,"x2":23.2},{"v":100,"g":"R","d":13.3,"x":11.0,"x2":23.2},{"v":100,"g":"R","d":15.8,"x":13.2,"x2":22.4},{"v":100,"g":"R","d":17.8,"x":14.6,"x2":20.8},{"v":100,"g":"R","d":19.3,"x":15.9,"x2":19.1},{"v":100,"g":"R","d":20.1,"x":17.1,"x2":17.9},
{"v":125,"g":"L","d":7.1,"x":-16.7,"x2":-15.9},{"v":125,"g":"L","d":7.6,"x":-18.8,"x2":-13.5},{"v":125,"g":"L","d":9,"x":-20.8,"x2":-11.5},{"v":125,"g":"L","d":11,"x":-21.6,"x2":-10.8},{"v":125,"g":"L","d":13,"x":-21.4,"x2":-10.9},{"v":125,"g":"L","d":15,"x":-20.3,"x2":-12.2},{"v":125,"g":"L","d":16,"x":-18.5,"x2":-14.3},{"v":125,"g":"L","d":16.5,"x":-16.8,"x2":-15.8},
{"v":125,"g":"R","d":7.4,"x":16.5,"x2":17.3},{"v":125,"g":"R","d":7.9,"x":14.1,"x2":19.4},{"v":125,"g":"R","d":9.3,"x":12.1,"x2":21.4},{"v":125,"g":"R","d":11.3,"x":11.4,"x2":22.2},{"v":125,"g":"R","d":13.3,"x":11.5,"x2":22.0},{"v":125,"g":"R","d":15.3,"x":12.8,"x2":20.9},{"v":125,"g":"R","d":16.3,"x":14.9,"x2":19.1},{"v":125,"g":"R","d":16.8,"x":16.4,"x2":17.4},
{"v":150,"g":"L","d":7.8,"x":-16.5,"x2":-15.9},{"v":150,"g":"L","d":8.3,"x":-18.3,"x2":-13.8},{"v":150,"g":"L","d":9.5,"x":-19.8,"x2":-12.3},{"v":150,"g":"L","d":11,"x":-20.3,"x2":-11.7},{"v":150,"g":"L","d":12.5,"x":-20.0,"x2":-11.9},{"v":150,"g":"L","d":13.7,"x":-19.0,"x2":-13.0},{"v":150,"g":"L","d":14.4,"x":-16.8,"x2":-15.4},
{"v":150,"g":"R","d":8.1,"x":16.5,"x2":17.1},{"v":150,"g":"R","d":8.6,"x":14.4,"x2":18.9},{"v":150,"g":"R","d":9.8,"x":12.9,"x2":20.4},{"v":150,"g":"R","d":11.3,"x":12.3,"x2":20.9},{"v":150,"g":"R","d":12.8,"x":12.5,"x2":20.6},{"v":150,"g":"R","d":14.0,"x":13.6,"x2":19.6},{"v":150,"g":"R","d":14.7,"x":16.0,"x2":17.4},
{"v":175,"g":"L","d":8.5,"x":-16.4,"x2":-15.8},{"v":175,"g":"L","d":9.0,"x":-18.0,"x2":-14.0},{"v":175,"g":"L","d":10,"x":-19.0,"x2":-13.1},{"v":175,"g":"L","d":11,"x":-19.3,"x2":-12.8},{"v":175,"g":"L","d":12,"x":-19.0,"x2":-13.0},{"v":175,"g":"L","d":12.8,"x":-18.0,"x2":-14.0},{"v":175,"g":"L","d":13.3,"x":-16.5,"x2":-15.5},
{"v":175,"g":"R","d":8.8,"x":16.4,"x2":17.0},{"v":175,"g":"R","d":9.3,"x":14.6,"x2":18.6},{"v":175,"g":"R","d":10.3,"x":13.7,"x2":19.6},{"v":175,"g":"R","d":11.3,"x":13.4,"x2":19.9},{"v":175,"g":"R","d":12.3,"x":13.6,"x2":19.6},{"v":175,"g":"R","d":13.1,"x":14.6,"x2":18.6},{"v":175,"g":"R","d":13.6,"x":16.1,"x2":17.1},
{"v":200,"g":"L","d":9.3,"x":-16.3,"x2":-15.8},{"v":200,"g":"L","d":9.8,"x":-17.6,"x2":-14.4},{"v":200,"g":"L","d":10.6,"x":-18.0,"x2":-14.0},{"v":200,"g":"L","d":11.4,"x":-17.8,"x2":-14.3},{"v":200,"g":"L","d":11.9,"x":-16.5,"x2":-15.6},
{"v":200,"g":"R","d":9.6,"x":16.4,"x2":16.9},{"v":200,"g":"R","d":10.1,"x":15.0,"x2":18.2},{"v":200,"g":"R","d":10.9,"x":14.6,"x2":18.6},{"v":200,"g":"R","d":11.7,"x":14.9,"x2":18.4},{"v":200,"g":"R","d":12.2,"x":16.2,"x2":17.1}
],
"tb":[
{"x":-9.9,"d":7.25,"s":"41"},{"x":-16.0,"d":8.66,"s":"166"},{"x":-18.0,"d":11.15,"s":"191"},{"x":-11.8,"d":11.76,"s":"141"},{"x":-33.0,"d":12.74,"s":"-34"},{"x":-12.6,"d":15.55,"s":"91"},{"x":-18.8,"d":16.2,"s":"116"},{"x":-24.8,"d":16.6,"s":"66"},{"x":-2.4,"d":18.9,"s":"-84"},{"x":18.4,"d":9.14,"s":"166"},{"x":15.5,"d":11.9,"s":"191"},{"x":22.0,"d":12.74,"s":"116"},{"x":10.2,"d":14.3,"s":"66"},{"x":16.5,"d":14.65,"s":"141"},{"x":35.8,"d":14.7,"s":"-34"},{"x":19.8,"d":17.9,"s":"91"},{"x":2.85,"d":21.6,"s":"-59"},{"x":25.0,"d":22.95,"s":"41"},{"x":-4.15,"d":24.0,"s":"-34"},{"x":8.4,"d":24.4,"s":"-9"},{"x":-12.0,"d":25.3,"s":"16"},{"x":36.6,"d":27.4,"s":"-9"},{"x":-38.0,"d":31.9,"s":"-9"}
],
"pb":[{"x":33.1,"d":38.1,"s":"(b)"}],
"la":[{"lab":"-50","v":-40},{"lab":"-25","v":-10},{"lab":"0","v":10},{"lab":"25","v":30},{"lab":"50","v":60},{"lab":"75","v":85},{"lab":"100","v":110},{"lab":"125","v":135},{"lab":"150","v":160},{"lab":"175","v":185},{"lab":"200","v":210}],
"lb":[{"lab":"-109","v":-95},{"lab":"-84","v":-70},{"lab":"-59","v":-45},{"lab":"-34","v":-20},{"lab":"-9","v":5},{"lab":"16","v":30},{"lab":"41","v":50},{"lab":"66","v":75},{"lab":"91","v":100},{"lab":"116","v":125},{"lab":"141","v":150},{"lab":"166","v":175},{"lab":"191","v":200},{"lab":"216"}]
},
"spacing":10,
"resolve":{"scale":{"color":"independent"}},
"hconcat":[
{"spacing":10,"resolve":{"scale":{"color":"independent"}},"hconcat":[
 {"width":510,"height":453,
  "view":{"stroke":"black","strokeWidth":1.5},
  "encoding":{
   "x":{"field":"x","type":"quantitative","scale":{"domain":[-40,40],"nice":false,"zero":false},"axis":{"orient":"top","title":"Distance from the gap center of two wheels (cm)","values":[-40,-30,-20,-10,0,10,20,30,40],"labelExpr":"datum.value + ''","zindex":1}},
   "y":{"field":"d","type":"quantitative","scale":{"domain":[4.5,44],"reverse":true,"nice":false,"zero":false},"axis":{"title":"Depth(cm)","values":[10,20,30,40],"labelExpr":"datum.value + ''","zindex":1}}
  },
  "layer":[
   {"data":{"name":"a"},
    "encoding":{"y2":{"field":"d2"},"color":{"field":"v","type":"quantitative","legend":null,"scale":{"type":"threshold","domain":[-25,0,25,50,75,100,125,150,175,200],"range":["#0000ff","#0080ff","#00ffff","#00ffbf","#00ff80","#00f000","#80ff00","#ffff00","#ffaa00","#ff5500","#ff0000"]}},"detail":{"field":"g"}},
    "layer":[
     {"transform":[{"filter":"datum.v==10"}],"mark":{"type":"area","orient":"vertical","interpolate":"monotone","clip":true}},
     {"transform":[{"filter":"datum.v==-10"}],"mark":{"type":"area","orient":"vertical","interpolate":"monotone","clip":true}},
     {"transform":[{"filter":"datum.v==-30"}],"mark":{"type":"area","orient":"vertical","interpolate":"monotone","clip":true}},
     {"transform":[{"filter":"datum.v==30"}],"mark":{"type":"area","orient":"vertical","interpolate":"monotone","clip":true}},
     {"transform":[{"filter":"datum.v==60"}],"mark":{"type":"area","orient":"vertical","interpolate":"monotone","clip":true}},
     {"transform":[{"filter":"datum.v==85"}],"mark":{"type":"area","orient":"vertical","interpolate":"monotone","clip":true}},
     {"transform":[{"filter":"datum.v==110"}],"mark":{"type":"area","orient":"vertical","interpolate":"monotone","clip":true}},
     {"transform":[{"filter":"datum.v==135"}],"mark":{"type":"area","orient":"vertical","interpolate":"monotone","clip":true}},
     {"transform":[{"filter":"datum.v==160"}],"mark":{"type":"area","orient":"vertical","interpolate":"monotone","clip":true}},
     {"transform":[{"filter":"datum.v==185"}],"mark":{"type":"area","orient":"vertical","interpolate":"monotone","clip":true}},
     {"transform":[{"filter":"datum.v==210"}],"mark":{"type":"area","orient":"vertical","interpolate":"monotone","clip":true}}
    ]},
   {"data":{"name":"ta"},"mark":{"type":"text","fontSize":15,"font":"Liberation Serif","color":"#000","baseline":"middle"},"encoding":{"text":{"field":"s"}}},
   {"data":{"name":"pa"},"mark":{"type":"text","fontSize":25,"font":"Liberation Serif","color":"#000","baseline":"middle"},"encoding":{"text":{"field":"s"}}}
  ]},
 {"width":29,"height":453,"data":{"name":"la"},
  "layer":[
   {"mark":{"type":"rect"},"encoding":{
     "y":{"field":"lab","type":"ordinal","sort":null,"axis":null,"scale":{"range":[20,237],"paddingInner":0,"paddingOuter":0}},
     "x":{"datum":0,"type":"quantitative","scale":{"domain":[0,1]},"axis":null},"x2":{"datum":1},
     "color":{"field":"v","type":"quantitative","legend":null,"scale":{"type":"threshold","domain":[-25,0,25,50,75,100,125,150,175,200],"range":["#0000ff","#0080ff","#00ffff","#00ffbf","#00ff80","#00f000","#80ff00","#ffff00","#ffaa00","#ff5500","#ff0000"]}}}},
   {"mark":{"type":"text","align":"left","baseline":"middle","dx":5,"fontSize":13,"font":"Liberation Serif","color":"#000"},"encoding":{
     "y":{"field":"lab","type":"ordinal","sort":null,"axis":null,"bandPosition":0},
     "x":{"datum":1,"type":"quantitative","scale":{"domain":[0,1]},"axis":null},
     "text":{"field":"lab"}}}
  ]}
]},
{"spacing":6,"resolve":{"scale":{"color":"independent"}},"hconcat":[
 {"width":496,"height":444,
  "view":{"stroke":"black","strokeWidth":1.5},
  "encoding":{
   "x":{"field":"x","type":"quantitative","scale":{"domain":[-40,40],"nice":false,"zero":false},"axis":{"orient":"top","title":"Distance from the gap center of two wheels (cm)","values":[-40,-30,-20,-10,0,10,20,30,40],"labelExpr":"datum.value + ''","zindex":1}},
   "y":{"field":"d","type":"quantitative","scale":{"domain":[4.6,40],"reverse":true,"nice":false,"zero":false},"axis":{"title":"Depth(cm)","values":[5,10,15,20,25,30,35,40],"labelExpr":"datum.value + ''","zindex":1}}
  },
  "layer":[
   {"data":{"name":"b"},
    "encoding":{"x2":{"field":"x2"},"color":{"field":"v","type":"quantitative","legend":null,"scale":{"type":"threshold","domain":[-84,-59,-34,-9,16,41,66,91,116,141,166,191],"range":["#0000ff","#0050ff","#0096ff","#00ffff","#00ffbe","#00ff60","#00e600","#55ff00","#aaff00","#ffff00","#ffaa00","#ff5500","#ff0000"]}},"detail":{"field":"g"}},
    "layer":[
     {"transform":[{"filter":"datum.v==30"}],"mark":{"type":"area","orient":"horizontal","interpolate":"monotone","clip":true}},
     {"transform":[{"filter":"datum.v==5"}],"mark":{"type":"area","orient":"horizontal","interpolate":"monotone","clip":true}},
     {"transform":[{"filter":"datum.v==-20"}],"mark":{"type":"area","orient":"horizontal","interpolate":"monotone","clip":true}},
     {"transform":[{"filter":"datum.v==-45"}],"mark":{"type":"area","orient":"horizontal","interpolate":"monotone","clip":true}},
     {"transform":[{"filter":"datum.v==-70"}],"mark":{"type":"area","orient":"horizontal","interpolate":"monotone","clip":true}},
     {"transform":[{"filter":"datum.v==-95"}],"mark":{"type":"area","orient":"horizontal","interpolate":"monotone","clip":true}},
     {"transform":[{"filter":"datum.v==50"}],"mark":{"type":"area","orient":"horizontal","interpolate":"monotone","clip":true}},
     {"transform":[{"filter":"datum.v==75"}],"mark":{"type":"area","orient":"horizontal","interpolate":"monotone","clip":true}},
     {"transform":[{"filter":"datum.v==100"}],"mark":{"type":"area","orient":"horizontal","interpolate":"monotone","clip":true}},
     {"transform":[{"filter":"datum.v==125"}],"mark":{"type":"area","orient":"horizontal","interpolate":"monotone","clip":true}},
     {"transform":[{"filter":"datum.v==150"}],"mark":{"type":"area","orient":"horizontal","interpolate":"monotone","clip":true}},
     {"transform":[{"filter":"datum.v==175"}],"mark":{"type":"area","orient":"horizontal","interpolate":"monotone","clip":true}},
     {"transform":[{"filter":"datum.v==200"}],"mark":{"type":"area","orient":"horizontal","interpolate":"monotone","clip":true}}
    ]},
   {"data":{"name":"tb"},"mark":{"type":"text","fontSize":14,"font":"Liberation Serif","color":"#000","baseline":"middle"},"encoding":{"text":{"field":"s"}}},
   {"data":{"name":"pb"},"mark":{"type":"text","fontSize":25,"font":"Liberation Serif","color":"#000","baseline":"middle"},"encoding":{"text":{"field":"s"}}}
  ]},
 {"width":27,"height":444,"data":{"name":"lb"},
  "layer":[
   {"transform":[{"filter":"isValid(datum.v)"}],"mark":{"type":"rect"},"encoding":{
     "y":{"field":"lab","type":"ordinal","sort":null,"axis":null,"scale":{"domain":["-109","-84","-59","-34","-9","16","41","66","91","116","141","166","191","216"],"range":[20,255.9],"paddingInner":0,"paddingOuter":0}},
     "x":{"datum":0,"type":"quantitative","scale":{"domain":[0,1]},"axis":null},"x2":{"datum":1},
     "color":{"field":"v","type":"quantitative","legend":null,"scale":{"type":"threshold","domain":[-84,-59,-34,-9,16,41,66,91,116,141,166,191],"range":["#0000ff","#0050ff","#0096ff","#00ffff","#00ffbe","#00ff60","#00e600","#55ff00","#aaff00","#ffff00","#ffaa00","#ff5500","#ff0000"]}}}},
   {"mark":{"type":"text","align":"left","baseline":"middle","dx":5,"fontSize":13,"font":"Liberation Serif","color":"#000"},"encoding":{
     "y":{"field":"lab","type":"ordinal","sort":null,"axis":null,"bandPosition":0},
     "x":{"datum":1,"type":"quantitative","scale":{"domain":[0,1]},"axis":null},
     "text":{"field":"lab"}}}
  ]}
]}
]
}
